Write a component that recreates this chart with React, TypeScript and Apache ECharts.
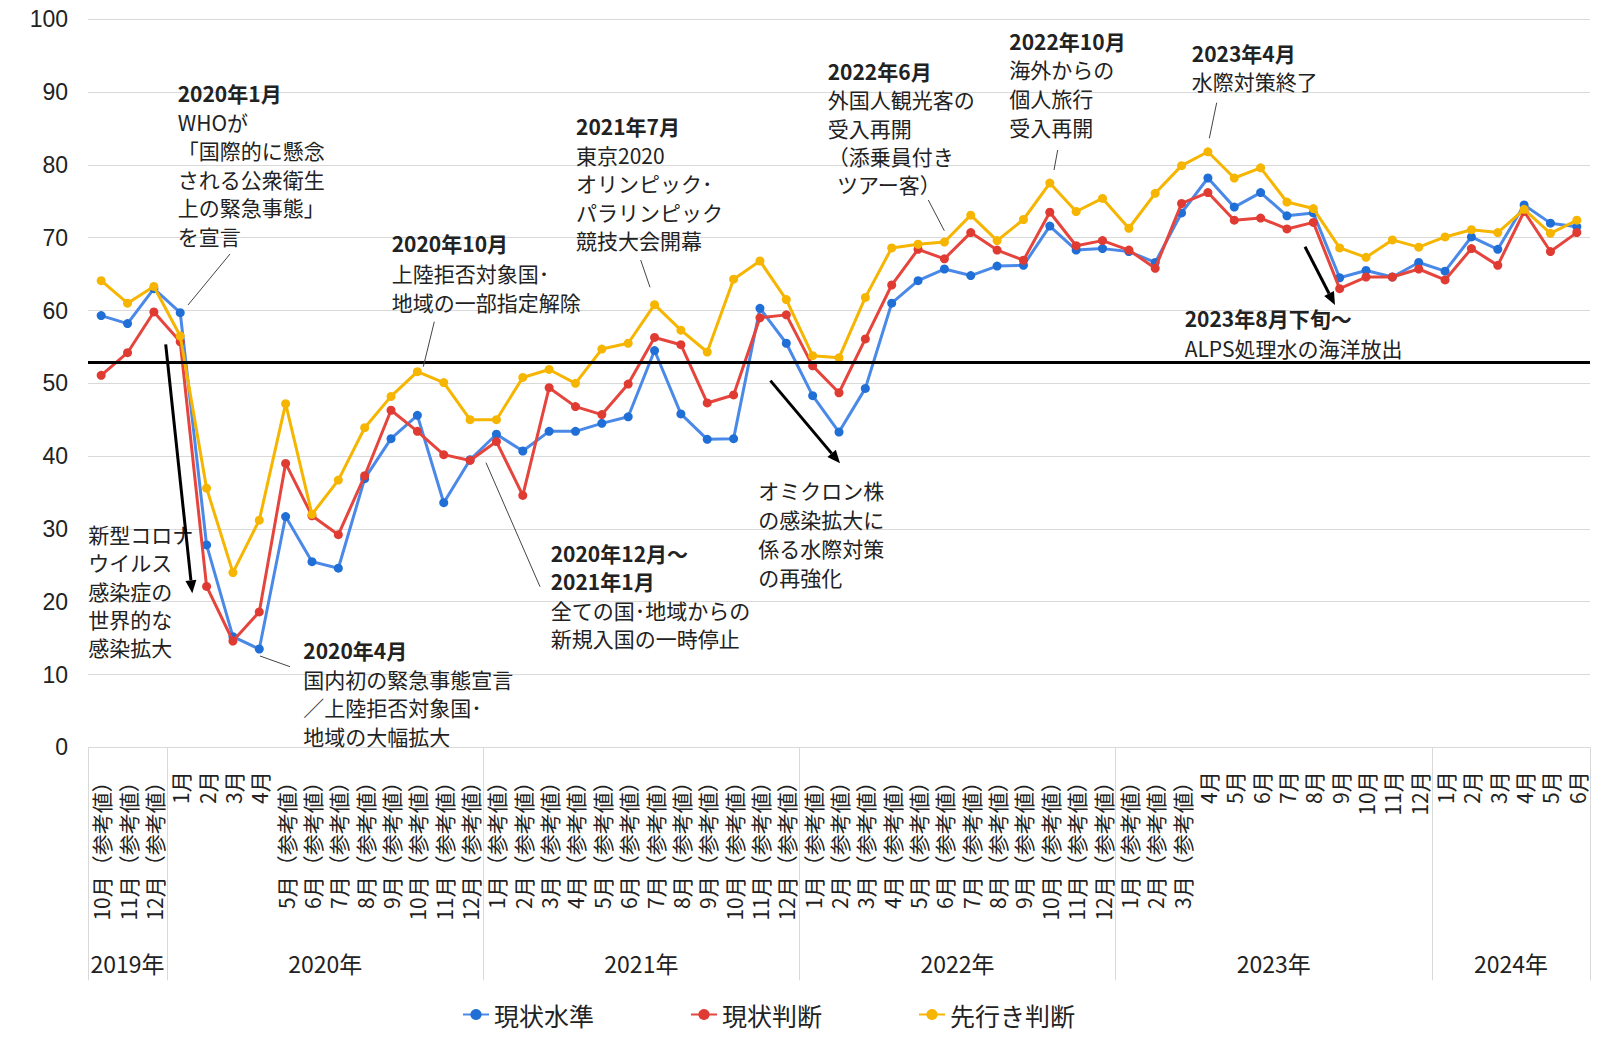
import React, { useEffect, useRef } from "react";
import * as echarts from "echarts";

// ---------- DATA ----------
const monthLabels = [
  "10月（参考値）", "11月（参考値）", "12月（参考値）",
  "1月", "2月", "3月", "4月", "5月（参考値）", "6月（参考値）", "7月（参考値）", "8月（参考値）", "9月（参考値）", "10月（参考値）", "11月（参考値）", "12月（参考値）",
  "1月（参考値）", "2月（参考値）", "3月（参考値）", "4月（参考値）", "5月（参考値）", "6月（参考値）", "7月（参考値）", "8月（参考値）", "9月（参考値）", "10月（参考値）", "11月（参考値）", "12月（参考値）",
  "1月（参考値）", "2月（参考値）", "3月（参考値）", "4月（参考値）", "5月（参考値）", "6月（参考値）", "7月（参考値）", "8月（参考値）", "9月（参考値）", "10月（参考値）", "11月（参考値）", "12月（参考値）",
  "1月（参考値）", "2月（参考値）", "3月（参考値）", "4月", "5月", "6月", "7月", "8月", "9月", "10月", "11月", "12月",
  "1月", "2月", "3月", "4月", "5月", "6月",
];

const yearLabels = ["2019年", "2020年", "2021年", "2022年", "2023年", "2024年"];
const yearBoundaries = [0, 3, 15, 27, 39, 51, 57];

const seriesNames = ["現状水準", "現状判断", "先行き判断"];

const genjoSuijun = [
  59.3, 58.2, 63.0, 59.7, 27.8, 15.2, 13.5, 31.7, 25.5, 24.6, 36.9, 42.4, 45.6, 33.6, 39.5,
  43.0, 40.7, 43.4, 43.4, 44.5, 45.4, 54.5, 45.8, 42.3, 42.4, 60.3, 55.5,
  48.3, 43.3, 49.3, 61.0, 64.1, 65.7, 64.8, 66.1, 66.2, 71.6, 68.3, 68.5,
  68.1, 66.6, 73.4, 78.2, 74.2, 76.2, 73.0, 73.4, 64.5, 65.5, 64.6, 66.6,
  65.4, 70.1, 68.4, 74.5, 72.0, 71.5,
];

const genjoHandan = [
  51.1, 54.2, 59.8, 55.7, 22.1, 14.6, 18.6, 39.0, 31.8, 29.2, 37.3, 46.3, 43.4, 40.2, 39.4,
  42.0, 34.6, 49.4, 46.8, 45.7, 49.9, 56.3, 55.3, 47.3, 48.4, 59.0, 59.4,
  52.4, 48.7, 56.1, 63.5, 68.4, 67.1, 70.7, 68.3, 66.9, 73.5, 68.9, 69.6,
  68.3, 65.8, 74.7, 76.2, 72.4, 72.7, 71.2, 72.1, 63.0, 64.6, 64.6, 65.7,
  64.2, 68.5, 66.2, 73.6, 68.1, 70.7,
];

const sakiyukiHandan = [
  64.1, 61.0, 63.3, 56.5, 35.6, 24.0, 31.2, 47.2, 32.0, 36.7, 43.9, 48.2, 51.6, 50.1, 45.0,
  45.0, 50.8, 51.9, 50.0, 54.7, 55.5, 60.8, 57.3, 54.3, 64.3, 66.8, 61.5,
  53.8, 53.5, 61.8, 68.6, 69.1, 69.4, 73.1, 69.6, 72.5, 77.5, 73.6, 75.4,
  71.3, 76.1, 79.9, 81.8, 78.2, 79.6, 74.9, 74.0, 68.6, 67.3, 69.7, 68.7,
  70.1, 71.1, 70.7, 73.9, 70.6, 72.4,
];

const referenceLevel = [52.9];

const yTicks = { min: 0, max: 100, interval: 10 };

// ---------- ANNOTATION LAYOUT ----------
type Note = { x: number; y: number; lh: number; bold: number; lines: string[] };
const notes: Note[] = [
  { x: 177.7, y: 93, lh: 28.6, bold: 1, lines: ["2020年1月", "WHOが", "「国際的に懸念", "される公衆衛生", "上の緊急事態」", "を宣言"] },
  { x: 391.7, y: 243, lh: 29.5, bold: 1, lines: ["2020年10月", "上陸拒否対象国･", "地域の一部指定解除"] },
  { x: 576, y: 126, lh: 28.5, bold: 1, lines: ["2021年7月", "東京2020", "オリンピック･", "パラリンピック", "競技大会開幕"] },
  { x: 827.7, y: 70.7, lh: 28.4, bold: 1, lines: ["2022年6月", "外国人観光客の", "受入再開", "（添乗員付き", "  ツアー客）"] },
  { x: 1009.3, y: 40.7, lh: 28.7, bold: 1, lines: ["2022年10月", "海外からの", "個人旅行", "受入再開"] },
  { x: 1191.8, y: 53.3, lh: 27.7, bold: 1, lines: ["2023年4月", "水際対策終了"] },
  { x: 1184.7, y: 318.3, lh: 30, bold: 1, lines: ["2023年8月下旬～", "ALPS処理水の海洋放出"] },
  { x: 550.7, y: 552.7, lh: 28.5, bold: 2, lines: ["2020年12月～", "2021年1月", "全ての国･地域からの", "新規入国の一時停止"] },
  { x: 758.3, y: 490, lh: 28.9, bold: 0, lines: ["オミクロン株", "の感染拡大に", "係る水際対策", "の再強化"] },
  { x: 88.3, y: 534.3, lh: 28.1, bold: 0, lines: ["新型コロナ", "ウイルス", "感染症の", "世界的な", "感染拡大"] },
  { x: 303.3, y: 650, lh: 28.7, bold: 1, lines: ["2020年4月", "国内初の緊急事態宣言", "／上陸拒否対象国･", "地域の大幅拡大"] },
];

const leaders: number[][] = [
  [230, 254, 188, 305],
  [434.3, 321.7, 423.3, 366.7],
  [640.7, 260, 650, 287.3],
  [928.3, 200, 944.3, 230.7],
  [1057.7, 150, 1054, 170],
  [1216.7, 102.7, 1209.3, 138.3],
  [540, 586.7, 486, 462.7],
  [260, 656, 290, 666.7],
];

const arrows: number[][] = [
  [165.7, 344.3, 192.3, 593.3],
  [770.4, 380.6, 840, 463.3],
  [1305, 246.7, 1335, 305],
];

const CJK = "'Noto Sans CJK JP', 'Noto Sans', sans-serif";
const TEXT = "#222";

function buildGraphics() {
  const els: any[] = [];
  notes.forEach((n) => {
    n.lines.forEach((line, i) => {
      els.push({
        type: "text",
        x: n.x,
        y: n.y + i * n.lh,
        z: 50,
        style: {
          text: line,
          fill: TEXT,
          fontSize: 21,
          fontWeight: i < n.bold ? "bold" : "normal",
          fontFamily: CJK,
          verticalAlign: "middle",
          align: "left",
        },
      });
    });
  });
  leaders.forEach(([x1, y1, x2, y2]) => {
    els.push({
      type: "line",
      z: 50,
      shape: { x1, y1, x2, y2 },
      style: { stroke: "#444", lineWidth: 1 },
    });
  });
  arrows.forEach(([x1, y1, x2, y2]) => {
    const dx = x2 - x1;
    const dy = y2 - y1;
    const len = Math.sqrt(dx * dx + dy * dy);
    const ux = dx / len;
    const uy = dy / len;
    const hl = 13;
    const hw = 5.5;
    const bx = x2 - ux * hl;
    const by = y2 - uy * hl;
    els.push({
      type: "line",
      z: 60,
      shape: { x1, y1, x2: bx, y2: by },
      style: { stroke: "#000", lineWidth: 3 },
    });
    els.push({
      type: "polygon",
      z: 60,
      shape: {
        points: [
          [x2, y2],
          [bx - uy * hw, by + ux * hw],
          [bx + uy * hw, by - ux * hw],
        ],
      },
      style: { fill: "#000" },
    });
  });
  return els;
}

export default function App() {
  const ref = useRef<HTMLDivElement>(null);

  useEffect(() => {
    document.body.style.margin = "0";
    if (!ref.current) return;
    const chart = echarts.init(ref.current, undefined, { renderer: "svg" });

    const yearCenters = yearLabels.map((_, i) => (yearBoundaries[i] + yearBoundaries[i + 1]) / 2);

    const colors = ["#4a89e8", "#e5453c", "#f6b500"];
    const symbolColors = ["#1f6fd6", "#e03b33", "#f6b500"];
    const dataSets = [genjoSuijun, genjoHandan, sakiyukiHandan];

    const option: any = {
      animation: false,
      textStyle: { fontFamily: CJK },
      grid: { left: 88, right: 10, top: 19.3, bottom: 291.7 },
      legend: {
        top: 997,
        left: 457,
        itemWidth: 26,
        itemHeight: 14,
        itemGap: 96,
        textStyle: { fontSize: 25, color: TEXT, fontFamily: CJK },
        data: seriesNames,
      },
      xAxis: [
        {
          type: "category",
          position: "bottom",
          data: monthLabels,
          boundaryGap: true,
          axisLine: { show: false },
          axisTick: { show: false },
          axisLabel: {
            interval: 0,
            rotate: 90,
            margin: 24,
            fontSize: 21,
            color: TEXT,
            fontFamily: CJK,
          },
          splitLine: { show: false },
        },
        {
          type: "value",
          position: "bottom",
          min: 0,
          max: monthLabels.length,
          axisLine: { show: false },
          splitLine: { show: false },
          axisTick: {
            show: true,
            customValues: yearBoundaries,
            length: 233,
            lineStyle: { color: "#d9d9d9", width: 1 },
          },
          axisLabel: {
            show: true,
            customValues: yearCenters,
            margin: 204,
            fontSize: 23,
            color: TEXT,
            fontFamily: CJK,
            formatter: (v: number) => {
              const idx = yearCenters.findIndex((c) => Math.abs(c - v) < 1e-6);
              return idx >= 0 ? yearLabels[idx] : "";
            },
          },
        },
      ],
      yAxis: {
        type: "value",
        min: yTicks.min,
        max: yTicks.max,
        interval: yTicks.interval,
        axisLine: { show: false },
        axisTick: { show: false },
        axisLabel: {
          margin: 20,
          fontSize: 23,
          color: TEXT,
          fontFamily: "'Liberation Sans', Arial, sans-serif",
        },
        splitLine: { lineStyle: { color: "#d9d9d9", width: 1 } },
      },
      series: dataSets.map((d, i) => ({
        name: seriesNames[i],
        type: "line",
        xAxisIndex: 0,
        data: d,
        symbol: "circle",
        symbolSize: 9,
        lineStyle: { color: colors[i], width: 3 },
        itemStyle: { color: symbolColors[i] },
        color: colors[i],
        z: 2 + i,
        markLine:
          i === 2
            ? {
                silent: true,
                symbol: ["none", "none"],
                label: { show: false },
                lineStyle: { color: "#000", width: 3, type: "solid" },
                data: referenceLevel.map((v) => ({ yAxis: v })),
              }
            : undefined,
      })),
      graphic: buildGraphics(),
    };

    chart.setOption(option);
    return () => chart.dispose();
  }, []);

  return <div ref={ref} style={{ width: 1600, height: 1039 }} />;
}
